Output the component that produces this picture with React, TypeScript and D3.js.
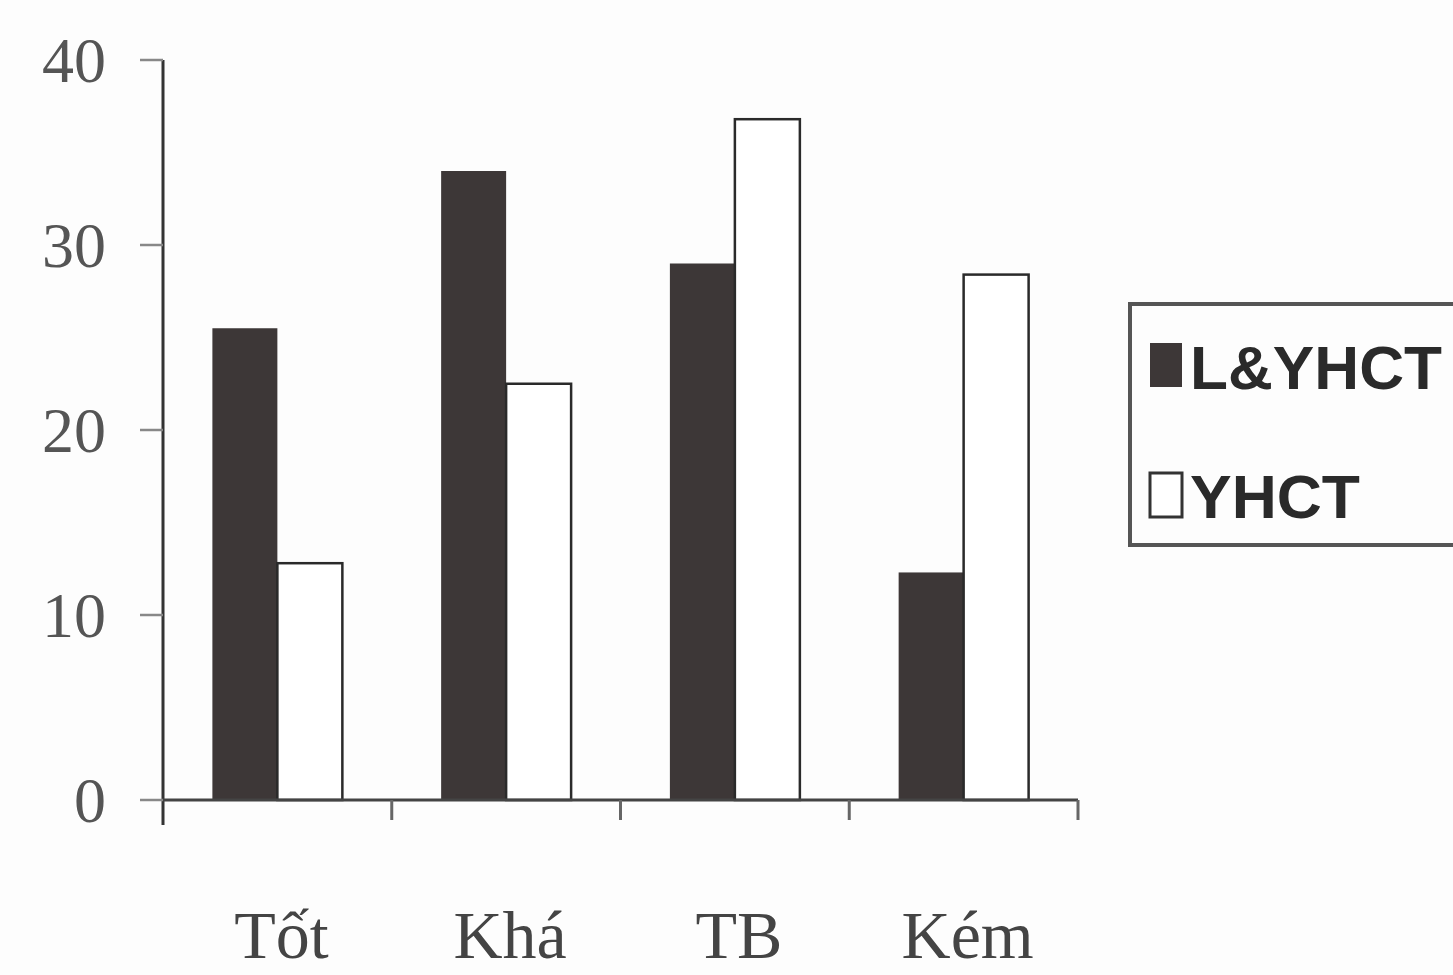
import React from "react";
import * as d3 from "d3";

const categories = ["Tốt", "Khá", "TB", "Kém"];
const seriesNames = ["L&YHCT", "YHCT"];
const seriesLYHCT = [25.5, 34, 29, 12.3];
const seriesYHCT = [12.8, 22.5, 36.8, 28.4];
const yTicks = [0, 10, 20, 30, 40];

const W = 1453;
const H = 975;

export default function App() {
  const x = d3.scaleBand<string>().domain(categories).range([163, 1078]).paddingInner(0).paddingOuter(0);
  const xs = d3.scaleBand<string>().domain(seriesNames).range([0, x.bandwidth()]).paddingInner(0).paddingOuter(0.76);
  const y = d3.scaleLinear().domain([0, 40]).range([800, 60]);
  const values = [seriesLYHCT, seriesYHCT];
  const fills = ["#3d3737", "#ffffff"];

  return (
    <svg width={W} height={H} style={{ position: "absolute", left: 0, top: 0, background: "#fdfdfd" }}>
      <rect x={0} y={0} width={W} height={H} fill="#fdfdfd" />
      {/* bars */}
      {categories.map((c, i) =>
        seriesNames.map((s, j) => {
          const v = values[j][i];
          const bx = (x(c) as number) + (xs(s) as number);
          const bw = xs.bandwidth();
          return (
            <rect
              key={c + s}
              x={bx}
              y={y(v)}
              width={bw}
              height={y(0) - y(v)}
              fill={fills[j]}
              stroke={j === 1 ? "#2a2a2a" : "none"}
              strokeWidth={j === 1 ? 2.5 : 0}
            />
          );
        })
      )}
      {/* y axis */}
      <line x1={163} x2={163} y1={y(40)} y2={825} stroke="#333" strokeWidth={3} />
      {yTicks.map((t) => (
        <g key={t}>
          <line x1={140} x2={163} y1={y(t)} y2={y(t)} stroke="#888" strokeWidth={2.5} />
          <text
            x={106}
            y={y(t)}
            dy="0.35em"
            textAnchor="end"
            fontFamily="Liberation Serif, DejaVu Serif, serif"
            fontSize={64}
            fill="#555"
          >
            {t}
          </text>
        </g>
      ))}
      {/* x axis */}
      <line x1={163} x2={1078} y1={y(0)} y2={y(0)} stroke="#444" strokeWidth={3} />
      {categories.map((c) => (
        <line
          key={"t" + c}
          x1={(x(c) as number) + x.bandwidth()}
          x2={(x(c) as number) + x.bandwidth()}
          y1={y(0)}
          y2={y(0) + 20}
          stroke="#666"
          strokeWidth={3}
        />
      ))}
      {categories.map((c) => (
        <text
          key={"l" + c}
          x={(x(c) as number) + x.bandwidth() / 2 + 4}
          y={958}
          textAnchor="middle"
          fontFamily="Liberation Serif, DejaVu Serif, serif"
          fontSize={68}
          fill="#444"
        >
          {c}
        </text>
      ))}
      {/* legend */}
      <rect x={1130} y={304} width={340} height={241} fill="#fdfdfd" stroke="#555" strokeWidth={4} />
      {seriesNames.map((s, j) => (
        <g key={"lg" + s}>
          <rect
            x={1150}
            y={j === 0 ? 343 : 473}
            width={32}
            height={j === 0 ? 44 : 44}
            fill={fills[j]}
            stroke="#333"
            strokeWidth={j === 0 ? 0 : 3}
          />
          <text
            x={1190}
            y={j === 0 ? 389 : 518}
            fontFamily="Liberation Sans, Arial, sans-serif"
            fontWeight="bold"
            fontSize={62}
            fill="#2a2a2a"
            textLength={j === 0 ? 252 : 170}
            lengthAdjust="spacingAndGlyphs"
          >
            {s}
          </text>
        </g>
      ))}
    </svg>
  );
}
